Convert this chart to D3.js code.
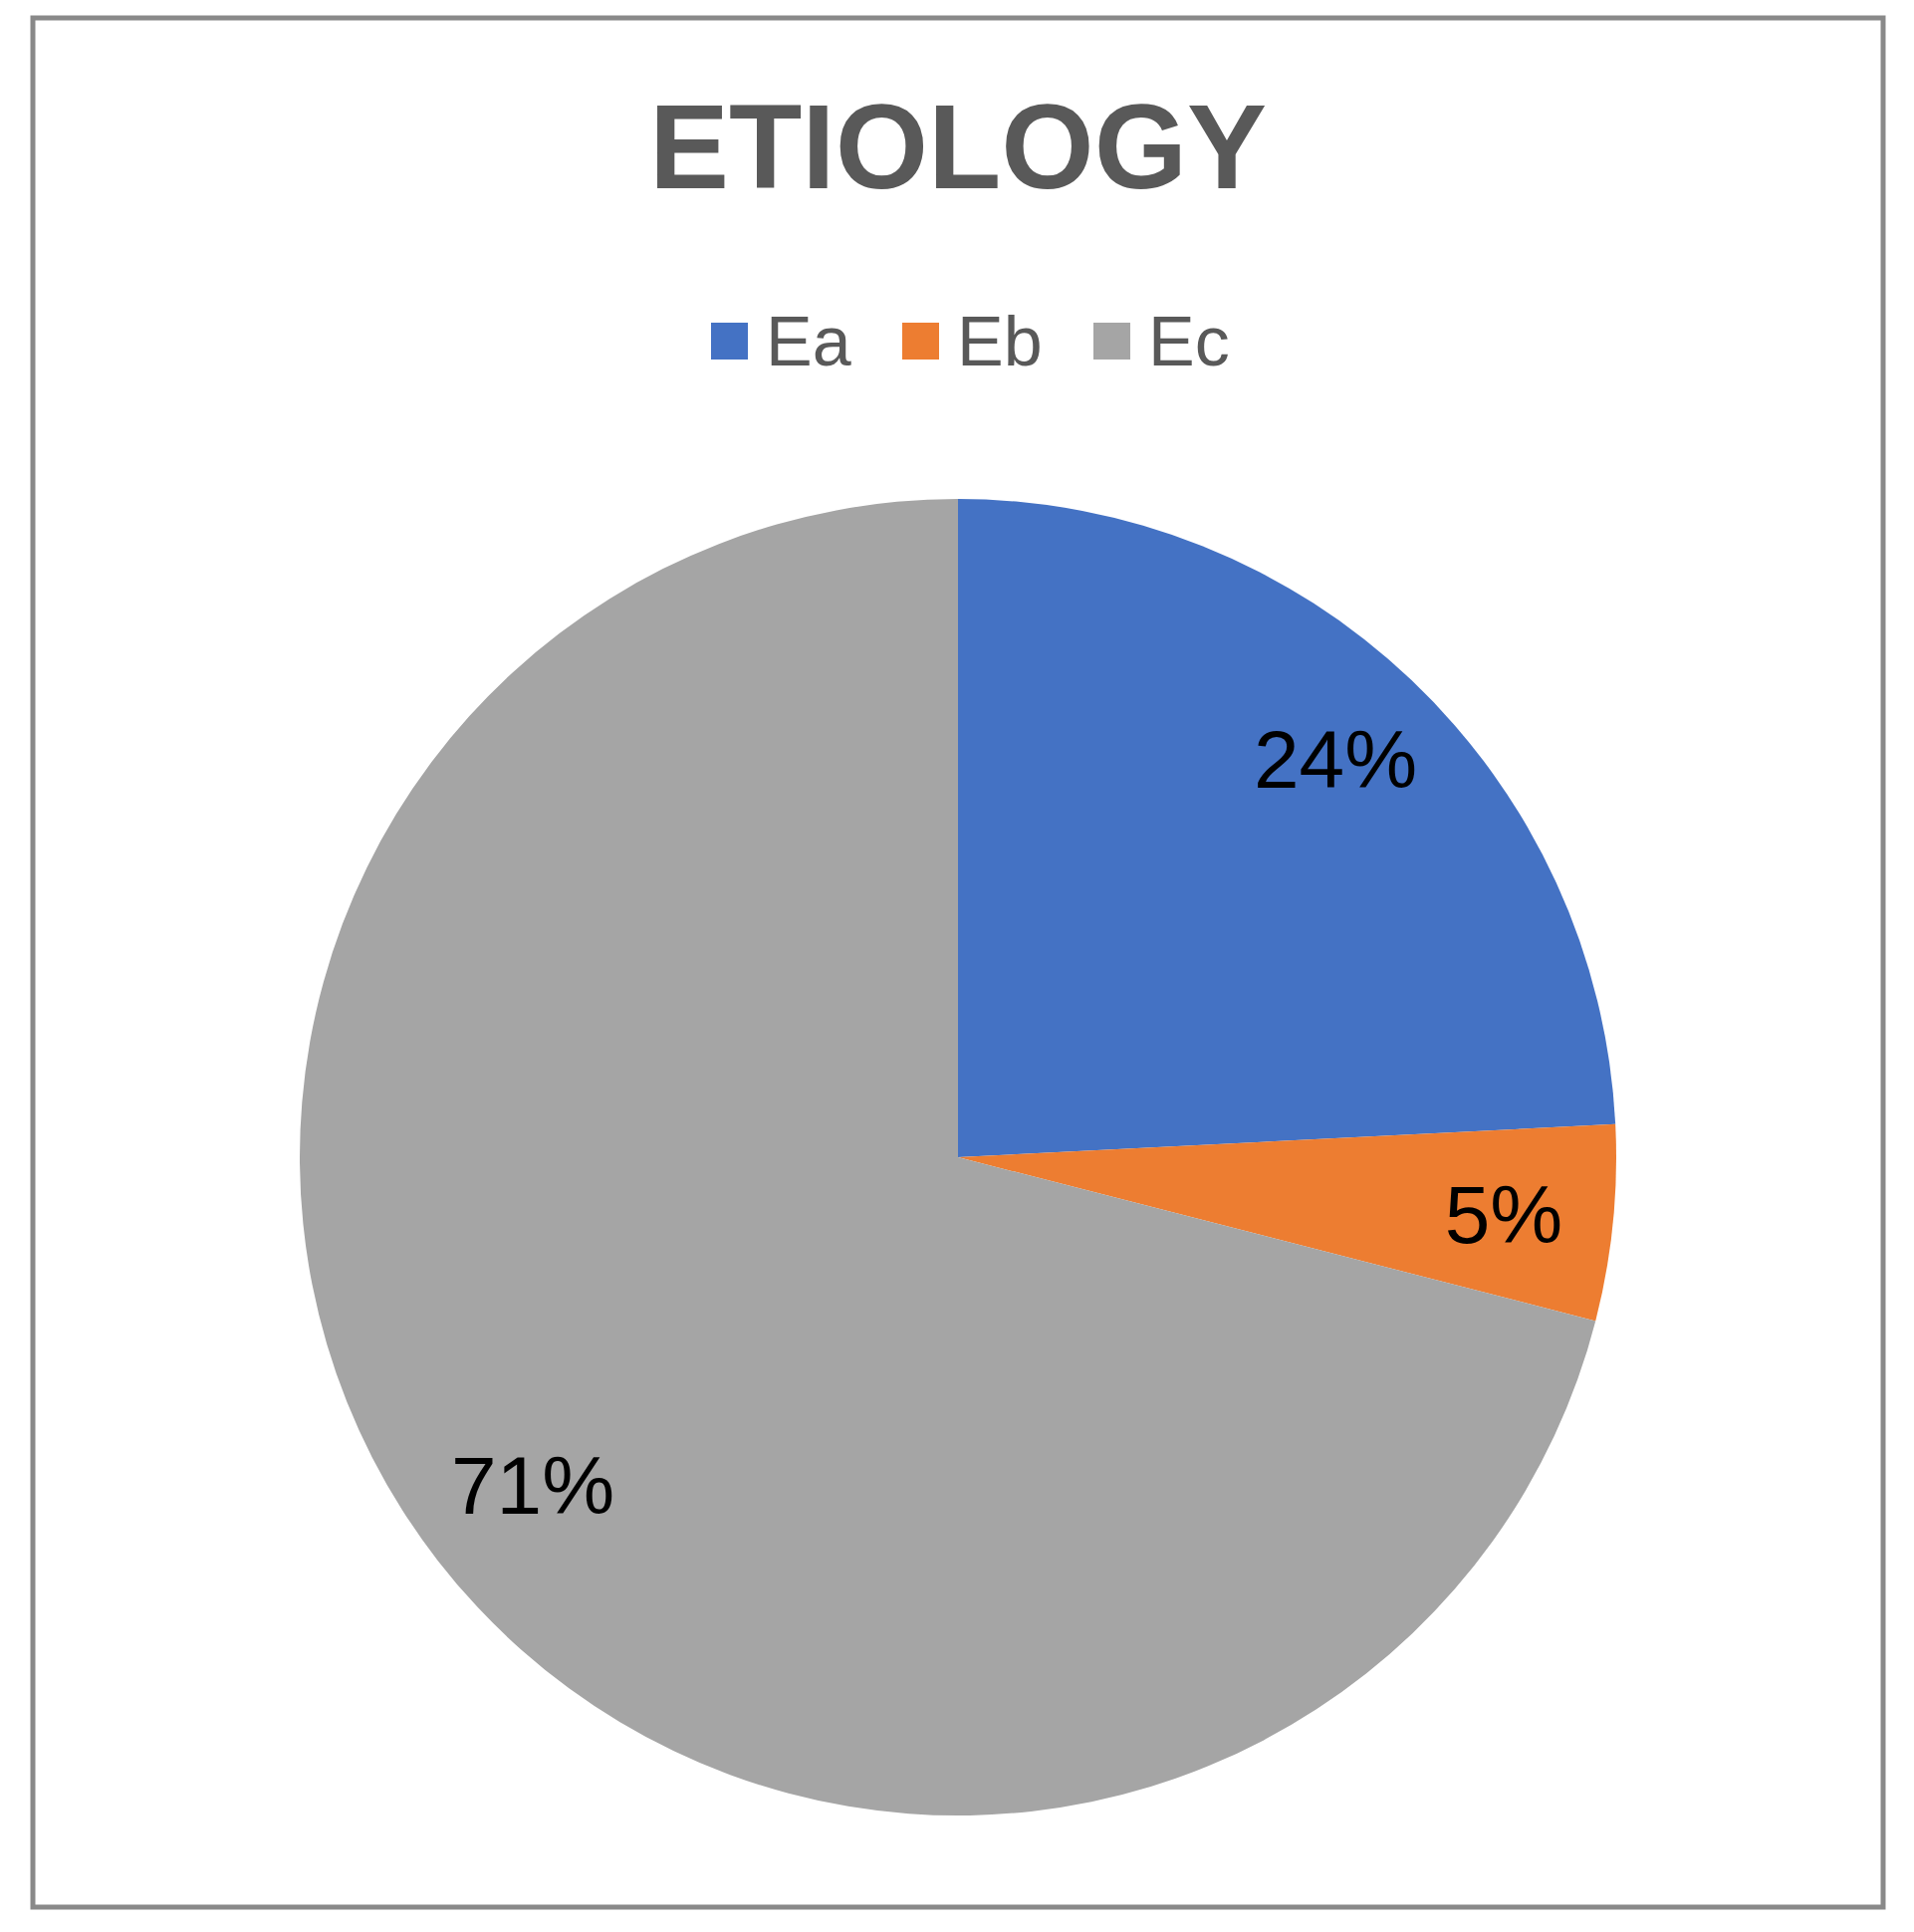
<!DOCTYPE html>
<html><head><meta charset="utf-8">
<script src="https://cdn.jsdelivr.net/npm/d3@7"></script>
<style>body{margin:0;background:#fff}</style></head>
<body><svg id="c" width="1922" height="1940"></svg>
<script>
const categories = ["Ea","Eb","Ec"];
const values = [24.2, 4.8, 71];
const labels = ["24%","5%","71%"];
const colors = ["#4472C4","#ED7D31","#A5A5A5"];

const svg = d3.select("#c");
svg.append("rect").attr("x",33).attr("y",18).attr("width",1858).attr("height",1897)
  .attr("fill","#fff").attr("stroke","#898989").attr("stroke-width",5);
svg.append("text").attr("x",962).attr("y",189).attr("text-anchor","middle")
  .attr("font-family","Liberation Sans, Arial").attr("font-weight","bold").attr("font-size",120)
  .attr("fill","#595959").text("ETIOLOGY");

const legX = [714,906,1098];
categories.forEach((c,i)=>{
  svg.append("rect").attr("x",legX[i]).attr("y",324).attr("width",37).attr("height",37).attr("fill",colors[i]);
  svg.append("text").attr("x",legX[i]+55).attr("y",367).attr("font-family","Liberation Sans, Arial")
    .attr("font-size",70).attr("fill","#595959").text(c);
});

const cx=962, cy=1162, r=661;
const pie = d3.pie().sort(null).value(d=>d)(values);
const arc = d3.arc().innerRadius(0).outerRadius(r);
const g = svg.append("g").attr("transform",`translate(${cx},${cy})`);
g.selectAll("path").data(pie).enter().append("path").attr("d",arc).attr("fill",(d,i)=>colors[i]);
const labelPos = [[379,-371],[548,86],[-427,358]];
g.selectAll("text.l").data(pie).enter().append("text").attr("class","l")
  .attr("x",(d,i)=>labelPos[i][0]).attr("y",(d,i)=>labelPos[i][1])
  .attr("text-anchor","middle").attr("font-family","Liberation Sans, Arial").attr("font-size",82)
  .attr("fill","#000").text((d,i)=>labels[i]);
</script></body></html>
